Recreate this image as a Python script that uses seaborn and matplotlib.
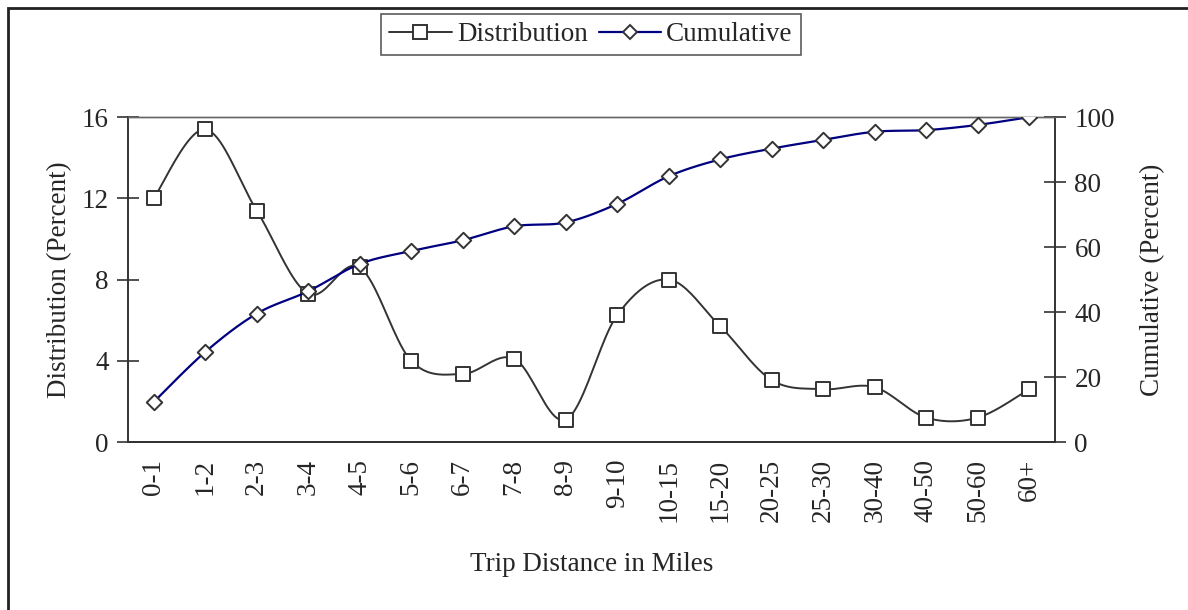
import numpy as np
import matplotlib
matplotlib.use("Agg")
import matplotlib.pyplot as plt
from matplotlib.lines import Line2D
from matplotlib.patches import Rectangle
import seaborn as sns

categories = ["0-1", "1-2", "2-3", "3-4", "4-5", "5-6", "6-7", "7-8", "8-9",
              "9-10", "10-15", "15-20", "20-25", "25-30", "30-40", "40-50",
              "50-60", "60+"]
distribution = [12.0, 15.4, 11.4, 7.3, 8.6, 4.0, 3.35, 4.1, 1.1,
                6.25, 8.0, 5.7, 3.05, 2.6, 2.7, 1.2, 1.2, 2.6]
cumulative = [12.3, 27.7, 39.5, 46.4, 54.8, 58.8, 62.1, 66.4, 67.6,
              73.3, 81.8, 87.0, 90.3, 93.0, 95.5, 96.0, 97.6, 100.0]
left_ticks = [0, 4, 8, 12, 16]
right_ticks = [0, 20, 40, 60, 80, 100]

DARK = "#333333"
NAVY = "#000080"
FS = 19.5


def smooth_path(xs, ys, steps=24):
    # Excel-style smoothed line: cubic Bezier segments through every point
    pts = np.column_stack([xs, ys]).astype(float)
    pad = np.vstack([pts[:1], pts, pts[-1:]])
    t = np.linspace(0, 1, steps)[:, None]
    out = []
    for i in range(len(pts) - 1):
        p0, p3 = pts[i], pts[i + 1]
        c1 = p0 + (pad[i + 2] - pad[i]) / 6
        c2 = p3 - (pad[i + 3] - pad[i + 1]) / 6
        seg = ((1 - t) ** 3) * p0 + 3 * ((1 - t) ** 2) * t * c1 \
            + 3 * (1 - t) * t ** 2 * c2 + t ** 3 * p3
        out.append(seg if i == 0 else seg[1:])
    out = np.vstack(out)
    return out[:, 0], out[:, 1]


def main():
    sns.set_theme(style="white")
    plt.rcParams["font.family"] = ["Liberation Serif", "DejaVu Serif"]
    plt.rcParams["font.size"] = FS

    fig = plt.figure(figsize=(11.88, 6.10), dpi=100)
    ax = fig.add_axes([0.1077, 0.2754, 0.7803, 0.5326])
    ax2 = ax.twinx()

    pos = np.arange(len(categories))

    sx, sy = smooth_path(pos, distribution)
    sns.lineplot(x=sx, y=sy, ax=ax, sort=False, estimator=None,
                 color=DARK, linewidth=1.4)
    sns.scatterplot(x=pos, y=distribution, ax=ax, marker="s", s=100,
                    color="white", edgecolor=DARK, linewidth=1.4, zorder=4)

    cx, cy = smooth_path(pos, cumulative)
    sns.lineplot(x=cx, y=cy, ax=ax2, sort=False, estimator=None,
                 color=NAVY, linewidth=1.6)
    sns.scatterplot(x=pos, y=cumulative, ax=ax2, marker="D", s=62,
                    color="white", edgecolor=DARK, linewidth=1.4, zorder=4)

    ax.set_xlim(-0.5, len(categories) - 0.5)
    ax.set_ylim(0, 16)
    ax2.set_ylim(0, 100)
    ax.set_yticks(left_ticks)
    ax2.set_yticks(right_ticks)

    # ticks between categories, labels at category centres
    ax.set_xticks(np.arange(-0.5, len(categories)), labels=[])
    ax.set_xticks(pos, labels=categories, minor=True)
    ax.tick_params(axis="x", which="minor", length=0, pad=12,
                   labelrotation=90, labelsize=FS)
    ax.tick_params(axis="x", which="major", direction="inout", length=16,
                   width=1.2, color=DARK)
    ax.tick_params(axis="y", direction="inout", length=16, width=1.2,
                   color=DARK, pad=6, labelsize=FS, left=True)
    ax2.tick_params(axis="y", direction="inout", length=16, width=1.2,
                    color=DARK, pad=6, labelsize=FS, right=True)

    for a in (ax, ax2):
        for side in ("left", "right", "bottom"):
            a.spines[side].set_color(DARK)
            a.spines[side].set_linewidth(1.4)
        a.spines["top"].set_color("#666666")
        a.spines["top"].set_linewidth(1.0)
    ax.spines["right"].set_visible(False)
    ax2.spines["left"].set_visible(False)

    ax.set_xlabel("Trip Distance in Miles", fontsize=FS, labelpad=22)
    ax.set_ylabel("Distribution (Percent)", fontsize=FS, labelpad=7)
    ax2.set_ylabel("Cumulative (Percent)", fontsize=FS, labelpad=18)

    handles = [
        Line2D([], [], color=DARK, linewidth=1.4, marker="s", markersize=10,
               markerfacecolor="white", markeredgecolor=DARK,
               markeredgewidth=1.4),
        Line2D([], [], color=NAVY, linewidth=1.6, marker="D", markersize=7,
               markerfacecolor="white", markeredgecolor=DARK,
               markeredgewidth=1.4),
    ]
    leg = fig.legend(handles, ["Distribution", "Cumulative"], ncol=2,
                     loc="center", bbox_to_anchor=(0.4975, 0.943),
                     frameon=True, fancybox=False, fontsize=FS,
                     handlelength=2.3, handletextpad=0.2,
                     columnspacing=0.4, borderpad=0.3)
    leg.get_frame().set_edgecolor(DARK)
    leg.get_frame().set_linewidth(1.2)

    # outer chart border (only top and left edges fall inside the image)
    fig.patches.append(Rectangle((8 / 1188, -0.5), 2, 1.5 - 8 / 610,
                                 transform=fig.transFigure, fill=False,
                                 edgecolor="#222222", linewidth=2.0))

    fig.savefig("out.png", dpi=100)
    plt.close(fig)


if __name__ == "__main__":
    main()
